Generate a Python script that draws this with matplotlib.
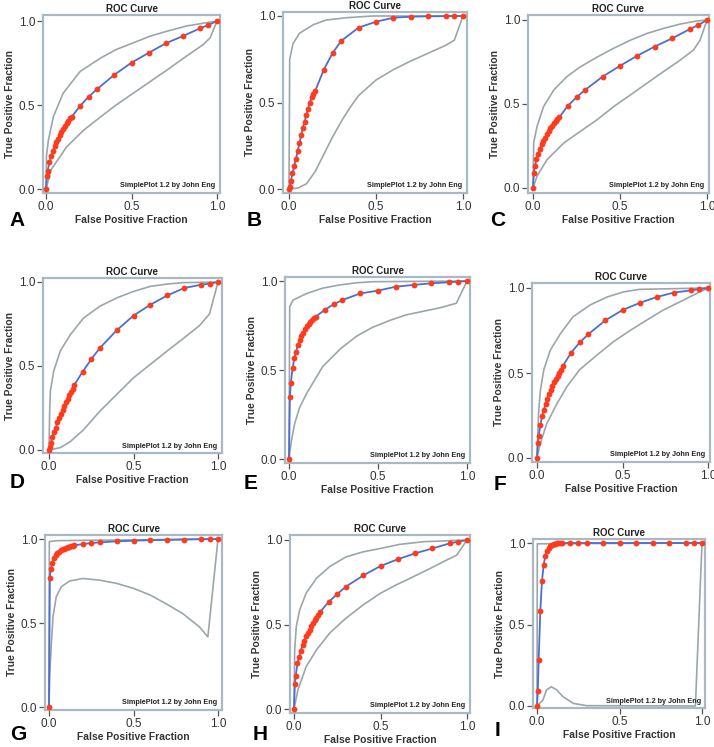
"""3x3 grid of SimplePlot ROC curves (panels A-I) with confidence bands"""
import matplotlib
matplotlib.use("Agg")
import matplotlib.pyplot as plt

plt.rcParams['font.family'] = ['Liberation Sans', 'DejaVu Sans']

FIG_W, FIG_H = 714, 747

# false positive fractions at which the fitted curve is sampled (shared by all panels)
FPF_POINTS = [0.0, 0.005, 0.01, 0.02, 0.03, 0.04, 0.05, 0.06, 0.07, 0.08, 0.09, 0.10,
              0.11, 0.12, 0.13, 0.14, 0.15, 0.20, 0.25, 0.30, 0.40, 0.50, 0.60, 0.70,
              0.80, 0.90, 0.95, 1.0]

PANEL_LETTERS = ['A', 'B', 'C', 'D', 'E', 'F', 'G', 'H', 'I']

# true positive fractions of each fitted curve
TPF_A = [0, 0.075, 0.11, 0.16, 0.195, 0.225, 0.255, 0.28, 0.30, 0.32, 0.34, 0.36, 0.375,
         0.39, 0.405, 0.42, 0.43, 0.495, 0.55, 0.596, 0.68, 0.752, 0.81, 0.867, 0.91,
         0.956, 0.976, 1.0]
TPF_B = [0, 0.01, 0.045, 0.09, 0.135, 0.175, 0.22, 0.265, 0.31, 0.355, 0.39, 0.43, 0.465,
         0.50, 0.53, 0.55, 0.565, 0.69, 0.785, 0.856, 0.933, 0.967, 0.99, 0.996, 0.998,
         0.999, 1.0, 1.0]
TPF_C = [0, 0.09, 0.13, 0.17, 0.204, 0.234, 0.26, 0.28, 0.30, 0.32, 0.34, 0.355, 0.37,
         0.385, 0.40, 0.41, 0.42, 0.489, 0.54, 0.584, 0.663, 0.727, 0.788, 0.842, 0.891,
         0.945, 0.97, 1.0]
TPF_D = [0, 0.02, 0.04, 0.075, 0.105, 0.133, 0.165, 0.19, 0.215, 0.24, 0.26, 0.285, 0.305,
         0.325, 0.345, 0.365, 0.388, 0.467, 0.54, 0.606, 0.712, 0.80, 0.865, 0.92, 0.964,
         0.984, 0.99, 1.0]
TPF_E = [0, 0.35, 0.425, 0.51, 0.565, 0.603, 0.64, 0.668, 0.69, 0.71, 0.73, 0.745, 0.76,
         0.77, 0.78, 0.79, 0.80, 0.837, 0.869, 0.893, 0.93, 0.946, 0.968, 0.978, 0.987,
         0.993, 0.996, 1.0]
TPF_F = [0, 0.088, 0.13, 0.195, 0.248, 0.283, 0.318, 0.35, 0.375, 0.40, 0.425, 0.445, 0.465,
         0.485, 0.50, 0.52, 0.54, 0.62, 0.68, 0.728, 0.81, 0.87, 0.912, 0.947, 0.973,
         0.986, 0.994, 1.0]
TPF_G = [0, 0.77, 0.82, 0.86, 0.885, 0.905, 0.915, 0.925, 0.932, 0.938, 0.943, 0.947, 0.951,
         0.954, 0.957, 0.96, 0.962, 0.97, 0.976, 0.98, 0.986, 0.99, 0.993, 0.995, 0.997,
         0.999, 0.999, 1.0]
TPF_H = [0, 0.148, 0.197, 0.27, 0.31, 0.346, 0.38, 0.405, 0.43, 0.45, 0.47, 0.49, 0.51,
         0.525, 0.54, 0.555, 0.573, 0.634, 0.68, 0.724, 0.79, 0.846, 0.886, 0.921, 0.95,
         0.98, 0.99, 1.0]
TPF_I = [0, 0.094, 0.28, 0.58, 0.765, 0.863, 0.918, 0.95, 0.97, 0.98, 0.988, 0.993, 0.996,
         0.998, 0.999, 0.999, 1.0, 1.0, 1.0, 1.0, 1.0, 1.0, 1.0, 1.0, 1.0, 1.0, 1.0, 1.0]

# upper / lower confidence bounds (x, y)
UP_X_A = [0, 0.003, 0.014, 0.043, 0.10, 0.20, 0.32, 0.41, 0.51, 0.61, 0.71, 0.82, 0.94, 1.0]
UP_Y_A = [0, 0.20, 0.29, 0.43, 0.57, 0.70, 0.78, 0.83, 0.87, 0.91, 0.94, 0.97, 0.99, 1.0]
LO_X_A = [0, 0.03, 0.12, 0.22, 0.32, 0.41, 0.51, 0.61, 0.71, 0.82, 0.92, 0.96, 1.0]
LO_Y_A = [0, 0.115, 0.25, 0.35, 0.43, 0.50, 0.57, 0.64, 0.71, 0.79, 0.86, 0.90, 1.0]

UP_X_B = [0, 0.004, 0.023, 0.06, 0.14, 0.215, 0.33, 0.48, 1.0]
UP_Y_B = [0, 0.75, 0.84, 0.90, 0.95, 0.977, 0.99, 1.0, 1.0]
LO_X_B = [0, 0.05, 0.10, 0.15, 0.20, 0.25, 0.30, 0.35, 0.40, 0.50, 0.60, 0.70, 0.80, 0.90, 0.95, 1.0]
LO_Y_B = [0, 0.005, 0.03, 0.10, 0.20, 0.30, 0.39, 0.47, 0.54, 0.63, 0.69, 0.74, 0.785, 0.83, 0.86, 1.0]

UP_X_C = [0, 0.004, 0.023, 0.061, 0.12, 0.195, 0.27, 0.37, 0.46, 0.56, 0.655, 0.75, 0.847, 0.94, 1.0]
UP_Y_C = [0, 0.27, 0.366, 0.485, 0.584, 0.663, 0.72, 0.78, 0.83, 0.88, 0.92, 0.95, 0.976, 0.994, 1.0]
LO_X_C = [0, 0.023, 0.08, 0.176, 0.272, 0.368, 0.464, 0.56, 0.655, 0.75, 0.847, 0.923, 0.96, 1.0]
LO_Y_C = [0, 0.07, 0.168, 0.267, 0.337, 0.406, 0.485, 0.554, 0.624, 0.693, 0.762, 0.822, 0.88, 1.0]

UP_X_D = [0, 0.004, 0.008, 0.028, 0.067, 0.126, 0.204, 0.30, 0.40, 0.50, 0.60, 0.70, 0.79, 1.0]
UP_Y_D = [0, 0.23, 0.35, 0.47, 0.59, 0.686, 0.785, 0.855, 0.905, 0.944, 0.974, 0.988, 0.996, 1.0]
LO_X_D = [0, 0.067, 0.126, 0.204, 0.30, 0.40, 0.50, 0.60, 0.70, 0.79, 0.89, 0.95, 1.0]
LO_Y_D = [0, 0.014, 0.05, 0.12, 0.23, 0.33, 0.43, 0.51, 0.59, 0.66, 0.74, 0.81, 1.0]

UP_X_E = [0, 0.004, 0.023, 0.10, 0.19, 0.286, 0.38, 0.47, 1.0]
UP_Y_E = [0, 0.856, 0.893, 0.93, 0.96, 0.978, 0.99, 0.996, 1.0]
LO_X_E = [0, 0.013, 0.032, 0.06, 0.10, 0.19, 0.29, 0.38, 0.47, 0.57, 0.66, 0.755, 0.85, 0.94, 1.0]
LO_Y_E = [0, 0.10, 0.20, 0.29, 0.37, 0.52, 0.62, 0.69, 0.74, 0.78, 0.81, 0.83, 0.85, 0.875, 1.0]

UP_X_F = [0, 0.004, 0.01, 0.02, 0.04, 0.078, 0.136, 0.21, 0.31, 0.41, 0.505, 0.60, 1.0]
UP_Y_F = [0, 0.127, 0.28, 0.40, 0.52, 0.635, 0.73, 0.83, 0.90, 0.947, 0.977, 0.992, 1.0]
LO_X_F = [0, 0.02, 0.058, 0.117, 0.175, 0.25, 0.35, 0.447, 0.544, 0.64, 0.738, 0.835, 0.932, 1.0]
LO_Y_F = [0, 0.088, 0.205, 0.32, 0.42, 0.52, 0.605, 0.684, 0.75, 0.81, 0.87, 0.918, 0.967, 1.0]

UP_X_G = [0, 0.002, 0.05, 0.20, 0.50, 1.0]
UP_Y_G = [0, 0.985, 0.99, 0.992, 0.995, 1.0]
LO_X_G = [0, 0.004, 0.014, 0.024, 0.043, 0.073, 0.122, 0.20, 0.30, 0.40, 0.50, 0.60, 0.69,
          0.79, 0.89, 0.94, 1.0]
LO_Y_G = [0, 0.18, 0.38, 0.54, 0.656, 0.716, 0.75, 0.765, 0.755, 0.736, 0.706, 0.666, 0.616,
          0.557, 0.477, 0.417, 1.0]

UP_X_H = [0, 0.004, 0.0135, 0.033, 0.07, 0.13, 0.207, 0.30, 0.40, 0.50, 0.61, 0.75, 1.0]
UP_Y_H = [0, 0.35, 0.49, 0.587, 0.685, 0.774, 0.843, 0.90, 0.93, 0.95, 0.974, 0.99, 1.0]
LO_X_H = [0, 0.023, 0.07, 0.13, 0.207, 0.30, 0.40, 0.50, 0.59, 0.69, 0.79, 0.88, 0.94, 1.0]
LO_Y_H = [0, 0.114, 0.25, 0.35, 0.45, 0.537, 0.616, 0.685, 0.734, 0.783, 0.833, 0.88, 0.91, 1.0]

UP_X_I = [0, 0.002, 1.0]
UP_Y_I = [0, 0.995, 1.0]
LO_X_I = [0, 0.036, 0.057, 0.087, 0.118, 0.158, 0.22, 0.30, 0.96, 1.0]
LO_Y_I = [0, 0.037, 0.098, 0.118, 0.10, 0.057, 0.016, 0.002, 0.0, 1.0]

TPF_ALL = [TPF_A, TPF_B, TPF_C, TPF_D, TPF_E, TPF_F, TPF_G, TPF_H, TPF_I]
UPPER_ALL = [(UP_X_A, UP_Y_A), (UP_X_B, UP_Y_B), (UP_X_C, UP_Y_C), (UP_X_D, UP_Y_D),
             (UP_X_E, UP_Y_E), (UP_X_F, UP_Y_F), (UP_X_G, UP_Y_G), (UP_X_H, UP_Y_H),
             (UP_X_I, UP_Y_I)]
LOWER_ALL = [(LO_X_A, LO_Y_A), (LO_X_B, LO_Y_B), (LO_X_C, LO_Y_C), (LO_X_D, LO_Y_D),
             (LO_X_E, LO_Y_E), (LO_X_F, LO_Y_F), (LO_X_G, LO_Y_G), (LO_X_H, LO_Y_H),
             (LO_X_I, LO_Y_I)]

# layout in pixels: frame box (left, top, right, bottom), data 0/1 in px (x0, x1, y1, y0), letter pos
FRAMES = [(43, 15, 220, 193), (283, 12, 467, 193), (528, 15, 709, 193),
          (43, 278, 222, 453), (285, 277, 470, 463), (532, 283, 710, 462),
          (45, 535, 222, 710), (290, 535, 470, 713), (533, 539, 705, 708)]
DATA_PX = [(46, 217, 21, 189), (289, 463, 16, 189), (533, 707, 20, 188),
           (49, 218, 282, 450), (289, 467, 281, 459), (537, 708, 288, 458),
           (49, 218, 539, 707), (294, 467, 540, 709), (537, 702, 543, 706)]
LETTER_POS = [(17, 221), (254, 220), (498, 220), (17, 482), (251, 483), (500, 485),
              (18, 735), (260, 735), (497, 731)]

FRAME_COLOR = '#a9b9c4'
BAND_COLOR = '#9ba6ab'
LINE_COLOR = '#4a6fd4'
POINT_COLOR = '#ff3b1d'


def draw_panel(fig, idx):
    fl, ft, fr, fb = FRAMES[idx]
    x0, x1, y1, y0 = DATA_PX[idx]
    ax = fig.add_axes([fl / FIG_W, 1 - fb / FIG_H, (fr - fl) / FIG_W, (fb - ft) / FIG_H])
    sx = x1 - x0
    sy = y0 - y1
    ax.set_xlim(-(x0 - fl) / sx, 1 + (fr - x1) / sx)
    ax.set_ylim(-(fb - y0) / sy, 1 + (y1 - ft) / sy)

    ux, uy = UPPER_ALL[idx]
    lx, ly = LOWER_ALL[idx]
    ax.plot(ux, uy, color=BAND_COLOR, lw=1.2, clip_on=False, zorder=2)
    ax.plot(lx, ly, color=BAND_COLOR, lw=1.2, clip_on=False, zorder=2)
    ax.plot(FPF_POINTS, TPF_ALL[idx], color=LINE_COLOR, lw=1.3, zorder=3)
    ax.plot(FPF_POINTS, TPF_ALL[idx], 'o', color=POINT_COLOR, ms=4.2, mew=0, zorder=4,
            clip_on=False)

    for sp in ax.spines.values():
        sp.set_color(FRAME_COLOR)
        sp.set_linewidth(1.6)
    ax.set_xticks([0, 0.5, 1.0])
    ax.set_yticks([0, 0.5, 1.0])
    ax.set_xticklabels(['0.0', '0.5', '1.0'])
    ax.set_yticklabels(['0.0', '0.5', '1.0'])
    ax.tick_params(direction='out', length=4, width=0.9, color='#555555',
                   labelsize=8.5, labelcolor='#333333', pad=1.5)

    ax.set_title('ROC Curve', fontsize=7, fontweight='bold', color='#222222', pad=2.5)
    ax.set_xlabel('False Positive Fraction', fontsize=7.4, fontweight='bold',
                  color='#333333', labelpad=2)
    ax.set_ylabel('True Positive Fraction', fontsize=7.4, fontweight='bold',
                  color='#333333', labelpad=2.5)
    ax.text(0.975, 0.02, 'SimplePlot 1.2 by John Eng', transform=ax.transAxes,
            ha='right', va='bottom', fontsize=5.2, fontweight='bold', color='#222222')

    lx_px, ly_px = LETTER_POS[idx]
    fig.text(lx_px / FIG_W, 1 - ly_px / FIG_H, PANEL_LETTERS[idx], fontsize=15,
             fontweight='bold', ha='center', va='center', color='black')


def main():
    fig = plt.figure(figsize=(FIG_W / 100, FIG_H / 100), dpi=100)
    for i in range(9):
        draw_panel(fig, i)
    fig.savefig('out.png', dpi=100)


if __name__ == "__main__":
    main()
